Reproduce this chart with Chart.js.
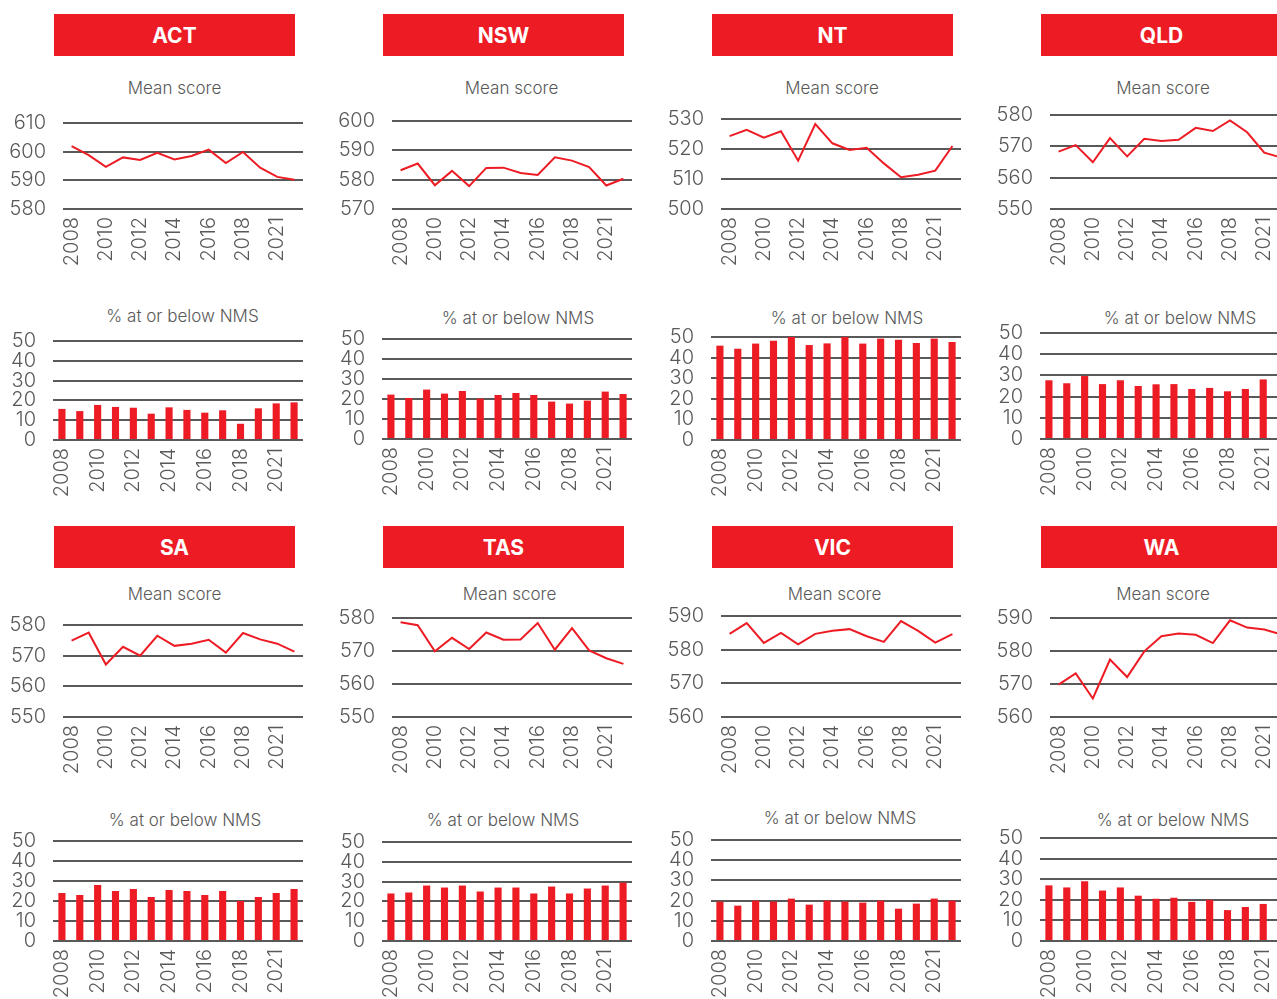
<!DOCTYPE html>
<html>
<head>
<meta charset="utf-8">
<script src="https://cdn.jsdelivr.net/npm/chart.js@4.4.1/dist/chart.umd.min.js"></script>
<style>
  html, body { margin: 0; padding: 0; background: #fff; }
  body { width: 1277px; height: 999px; overflow: hidden; position: relative; font-family: Inter, 'Open Sans', sans-serif; }
  .head { position: absolute; width: 241px; height: 42px; background: #ed1c24; color: #fff;
          font-weight: 700; font-size: 21px; line-height: 43px; text-align: center; }
  .ttl { position: absolute; width: 240px; height: 20px; line-height: 20px; text-align: center;
         font-size: 17px; font-weight: 300; color: #595959; white-space: nowrap; }
  canvas { position: absolute; }
</style>
</head>
<body>
<script>
/***************************************
 * Data
 ***************************************/
const years = ['2008', '2009', '2010', '2011', '2012', '2013', '2014', '2015', '2016', '2017', '2018', '2019', '2021', '2022'];
const states = ['ACT', 'NSW', 'NT', 'QLD', 'SA', 'TAS', 'VIC', 'WA'];

// Mean score
const actMean = [601.9, 598.8, 594.7, 598.0, 597.1, 599.6, 597.3, 598.5, 600.7, 596.0, 599.9, 594.4, 591.2, 590.2];
const nswMean = [583.2, 585.5, 578.1, 583.0, 577.8, 584.0, 584.1, 582.3, 581.6, 587.6, 586.5, 584.3, 578.0, 580.3];
const ntMean  = [524.3, 526.4, 523.8, 525.9, 516.1, 528.3, 521.9, 519.7, 520.4, 515.2, 510.6, 511.4, 512.8, 521.0];
const qldMean = [568.3, 570.4, 564.9, 572.6, 566.8, 572.4, 571.7, 572.1, 575.9, 574.9, 578.3, 574.5, 568.0, 566.4];
const saMean  = [574.9, 577.5, 567.1, 572.9, 570.0, 576.5, 573.2, 573.9, 575.2, 571.0, 577.4, 575.3, 573.9, 571.3];
const tasMean = [578.7, 577.8, 569.9, 574.0, 570.6, 575.6, 573.4, 573.5, 578.5, 570.4, 576.9, 570.2, 567.8, 566.1];
const vicMean = [584.7, 587.9, 582.0, 585.0, 581.6, 584.7, 585.6, 586.1, 584.0, 582.3, 588.5, 585.6, 582.1, 584.6];
const waMean  = [569.8, 573.2, 565.6, 577.4, 572.1, 579.9, 584.5, 585.3, 584.9, 582.4, 589.3, 587.1, 586.5, 585.0];

// % at or below NMS
const actNms = [15.7, 14.6, 17.7, 16.7, 16.3, 13.3, 16.5, 15.2, 13.8, 15.0, 8.2, 16.0, 18.5, 19.0];
const nswNms = [22.2, 20.5, 24.7, 22.7, 24.0, 20.2, 22.0, 23.0, 22.0, 18.7, 17.7, 19.2, 23.7, 22.5];
const ntNms  = [45.8, 44.3, 46.8, 48.2, 50.0, 46.1, 46.9, 50.0, 46.8, 49.2, 48.7, 47.1, 49.2, 47.6];
const qldNms = [27.7, 26.3, 29.7, 25.9, 27.7, 25.0, 25.8, 25.9, 23.6, 24.1, 22.5, 23.6, 28.1, 29.5];
const saNms  = [24.0, 23.0, 28.0, 25.0, 26.0, 22.0, 25.5, 25.0, 23.0, 25.0, 20.0, 22.0, 24.0, 26.0];
const tasNms = [24.0, 24.5, 28.0, 27.0, 28.0, 25.0, 27.0, 27.0, 24.0, 27.5, 24.0, 26.5, 28.0, 29.5];
const vicNms = [19.5, 17.5, 20.0, 19.5, 21.0, 18.0, 20.0, 19.5, 19.0, 20.0, 16.0, 18.5, 21.0, 20.0];
const waNms  = [27.0, 26.0, 29.0, 24.5, 26.0, 22.0, 20.5, 21.0, 19.0, 20.0, 15.0, 16.5, 18.0, 19.0];

// y axis floor of each mean score chart (each spans 30 points)
const meanMin = [580, 570, 500, 550, 550, 550, 560, 560];

const meanData = [actMean, nswMean, ntMean, qldMean, saMean, tasMean, vicMean, waMean];
const nmsData = [actNms, nswNms, ntNms, qldNms, saNms, tasNms, vicNms, waNms];

/***************************************
 * Layout (pixel positions per panel)
 ***************************************/
const RED = '#ed1c24';
const GREY = '#595959';
const FONT = "Inter, 'Open Sans', sans-serif";
const COL_W = 329;
const headTop = [14, 526];
const lineTitle = { x: [[174.5, 511.5, 832, 1163], [174.5, 509.5, 834.5, 1163]], y: [[88, 88, 88, 88], [594, 594, 594, 594]] };
const barTitle = { x: [[182.5, 518, 847, 1180], [185, 503, 840, 1173]], y: [[316, 318, 318, 318], [820, 820, 818, 820]] };
const lineTop = [[123, 121, 119, 115], [625, 618, 616, 618]];
const lineBottom = [[209, 209, 209, 209], [717, 717, 717, 717]];
const barTop = [[341, 339, 337, 333], [841, 842, 840, 838]];
const barBottom = [[440, 439, 440, 439], [941, 941, 941, 941]];
const PAD_TOP = 14;
const X_AXIS_H = 62;

function addDiv(cls, text, left, top) {
  const d = document.createElement('div');
  d.className = cls;
  d.textContent = text;
  d.style.left = left + 'px';
  d.style.top = top + 'px';
  document.body.appendChild(d);
}

function makeChart(type, values, yMin, yMax, left, plotLeft, plotRight, top, bottom) {
  const canvas = document.createElement('canvas');
  const w = plotRight - left + 2;
  const h = (bottom - top) + PAD_TOP + X_AXIS_H;
  canvas.width = w;
  canvas.height = h;
  canvas.style.left = left + 'px';
  canvas.style.top = (top - PAD_TOP) + 'px';
  document.body.appendChild(canvas);

  const tickFont = { family: FONT, size: 20, weight: 300 };
  return new Chart(canvas.getContext('2d'), {
    type: type,
    data: {
      labels: years,
      datasets: [{
        data: values,
        backgroundColor: RED,
        borderColor: RED,
        borderWidth: type === 'line' ? 2 : 0,
        pointRadius: 0,
        tension: 0,
        barPercentage: 0.4,
        categoryPercentage: 1
      }]
    },
    options: {
      responsive: false,
      animation: false,
      layout: { padding: { top: PAD_TOP, left: 0, right: 2, bottom: 0 } },
      plugins: { legend: { display: false }, tooltip: { enabled: false } },
      scales: {
        x: {
          offset: true,
          grid: { display: false },
          border: { display: false },
          afterFit: s => { s.height = X_AXIS_H; s.paddingLeft = 0; s.paddingRight = 0; },
          ticks: {
            autoSkip: false,
            minRotation: 90,
            maxRotation: 90,
            padding: 0,
            color: GREY,
            font: tickFont,
            callback: function(val, i) { return i % 2 === 0 ? this.getLabelForValue(val) : ''; }
          }
        },
        y: {
          min: yMin,
          max: yMax,
          border: { display: false },
          grid: { color: GREY, lineWidth: 2, drawTicks: false },
          afterFit: s => { s.width = plotLeft - left; s.paddingTop = 0; s.paddingBottom = 0; },
          ticks: { autoSkip: false, stepSize: 10, padding: 17, color: GREY, font: tickFont }
        }
      }
    }
  });
}

states.forEach((name, i) => {
  const row = Math.floor(i / 4);
  const col = i % 4;
  const colX = col * COL_W;

  addDiv('head', name, 54 + colX, headTop[row]);
  addDiv('ttl', 'Mean score', lineTitle.x[row][col] - 120, lineTitle.y[row][col] - 10);
  addDiv('ttl', '% at or below NMS', barTitle.x[row][col] - 120, barTitle.y[row][col] - 10);

  makeChart('line', meanData[i], meanMin[i], meanMin[i] + 30,
    colX, 63 + colX, 303 + colX, lineTop[row][col], lineBottom[row][col]);
  makeChart('bar', nmsData[i], 0, 50,
    colX, 53 + colX, 303 + colX, barTop[row][col], barBottom[row][col]);
});
</script>
</body>
</html>
